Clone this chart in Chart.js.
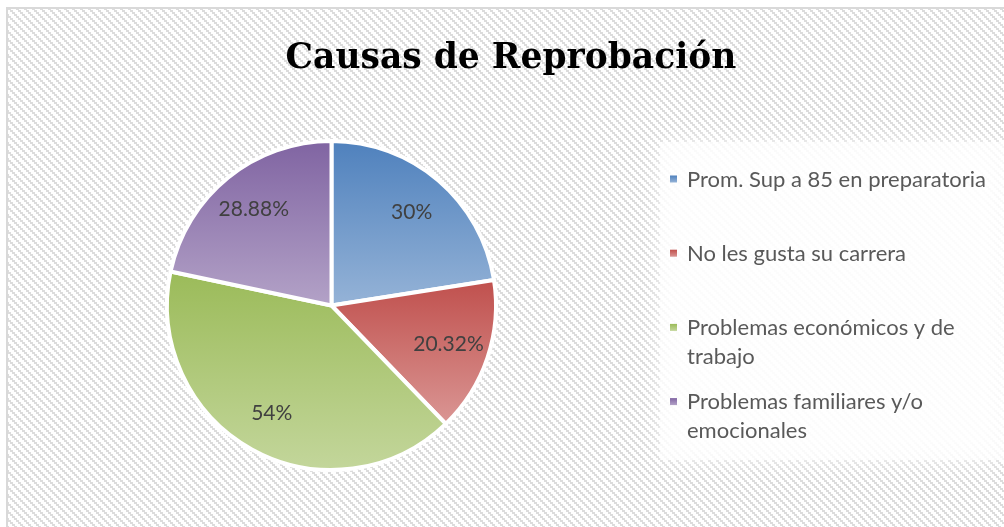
<!DOCTYPE html>
<html>
<head>
<meta charset="utf-8">
<script src="https://cdn.jsdelivr.net/npm/chart.js@4.4.1/dist/chart.umd.min.js"></script>
<style>
  html, body { margin: 0; padding: 0; background: #fff; }
  #chart { display: block; }
</style>
</head>
<body>
<canvas id="chart" width="1004" height="527"></canvas>
<script>
// ── Data ──────────────────────────────────────────────────────────────────────
const titleText   = 'Causas de Reprobación';
const categories  = ['Prom. Sup a 85 en preparatoria', 'No les gusta su carrera', 'Problemas económicos y de trabajo', 'Problemas familiares y/o emocionales'];
const legendLines = [['Prom. Sup a 85 en preparatoria'], ['No les gusta su carrera'], ['Problemas económicos y de', 'trabajo'], ['Problemas familiares y/o', 'emocionales']];
const values      = [30, 20.32, 54, 28.88];

// ── Styles ────────────────────────────────────────────────────────────────────
const topColors    = ['#4f81bd', '#c0504d', '#9bbb59', '#8064a2'];
const bottomColors = ['#95b3d7', '#da9694', '#c3d69b', '#b3a2c7'];
const LABEL_FONT   = '21px Lato';
const LEGEND_FONT  = '22px Lato';
const TITLE_FONT   = 'bold 34.5px "DejaVu Serif"';

function makeHatch(ctx) {
    const c = document.createElement('canvas');
    c.width = 8; c.height = 8;
    const g = c.getContext('2d');
    g.fillStyle = '#ffffff';
    g.fillRect(0, 0, 8, 8);
    g.fillStyle = '#dcdcdc';
    for (let y = 0; y < 8; y++) {
        for (let x = 0; x < 8; x++) {
            if ((((x - 2 * Math.floor(y / 2)) % 8) + 8) % 8 < 3) g.fillRect(x, y, 1, 1);
        }
    }
    return ctx.createPattern(c, 'repeat');
}

function arcYRange(a) {
    let lo = a.y, hi = a.y;
    const n = 64;
    for (let k = 0; k <= n; k++) {
        const t = a.startAngle + (a.endAngle - a.startAngle) * k / n;
        const y = a.y + a.outerRadius * Math.sin(t);
        lo = Math.min(lo, y); hi = Math.max(hi, y);
    }
    return [lo, hi];
}

// background, border, legend panel, title, value labels, legend
const decorPlugin = {
    id: 'decor',
    beforeDraw(chart) {
        const ctx = chart.ctx;
        ctx.save();
        ctx.fillStyle = '#ffffff';
        ctx.fillRect(0, 0, chart.width, chart.height);
        ctx.fillStyle = makeHatch(ctx);
        ctx.fillRect(7, 9, chart.width - 7, chart.height - 9);
        ctx.strokeStyle = '#d9d9d9';
        ctx.lineWidth = 2;
        ctx.beginPath();
        ctx.moveTo(7, chart.height);
        ctx.lineTo(7, 8);
        ctx.lineTo(chart.width, 8);
        ctx.stroke();
        // soft white panel behind the legend
        ctx.fillStyle = 'rgba(255,255,255,0.7)';
        ctx.shadowColor = 'rgba(255,255,255,1)';
        ctx.shadowBlur = 24;
        ctx.fillRect(660, 142, 344, 318);
        ctx.restore();

        ctx.save();
        ctx.font = TITLE_FONT;
        ctx.fillStyle = '#000000';
        ctx.textAlign = 'center';
        ctx.textBaseline = 'alphabetic';
        ctx.fillText(titleText, 511, 68);
        ctx.restore();
    },
    beforeDatasetsDraw(chart) {
        const ctx = chart.ctx;
        chart.getDatasetMeta(0).data.forEach((arc, i) => {
            const [lo, hi] = arcYRange(arc);
            const grad = ctx.createLinearGradient(0, lo, 0, hi);
            grad.addColorStop(0, topColors[i]);
            grad.addColorStop(1, bottomColors[i]);
            arc.options.backgroundColor = grad;
        });
    },
    afterDatasetsDraw(chart) {
        const ctx = chart.ctx;
        ctx.save();
        ctx.font = LABEL_FONT;
        ctx.fillStyle = '#404040';
        ctx.textAlign = 'center';
        ctx.textBaseline = 'middle';
        chart.getDatasetMeta(0).data.forEach((arc, i) => {
            const mid = (arc.startAngle + arc.endAngle) / 2;
            const r = arc.outerRadius * 0.75;
            ctx.fillText(values[i] + '%', arc.x + r * Math.cos(mid), arc.y + r * Math.sin(mid));
        });
        ctx.restore();

        // legend
        ctx.save();
        ctx.font = LEGEND_FONT;
        ctx.textAlign = 'left';
        ctx.textBaseline = 'alphabetic';
        legendLines.forEach((lines, i) => {
            const base = 186.5 + i * 74.2;
            const g = ctx.createLinearGradient(0, base - 11, 0, base - 4);
            g.addColorStop(0, topColors[i]);
            g.addColorStop(1, bottomColors[i]);
            ctx.fillStyle = g;
            ctx.fillRect(670, base - 11, 7, 7);
            ctx.fillStyle = '#595959';
            lines.forEach((ln, j) => ctx.fillText(ln, 687, base + j * 29));
        });
        ctx.restore();
    }
};

/* global Chart */
new Chart(document.getElementById('chart'), {
    type: 'pie',
    data: {
        labels: categories,
        datasets: [{
            data:            values,
            backgroundColor: ctx => topColors[ctx.dataIndex],
            borderColor:     '#ffffff',
            borderWidth:     4,
            hoverOffset:     0,
            offset:          0
        }]
    },
    options: {
        responsive:       false,
        animation:        false,
        devicePixelRatio: 1,
        events:           [],
        layout: { padding: { top: 139, bottom: 55, left: 165, right: 506 } },
        plugins: {
            legend:  { display: false },
            title:   { display: false },
            tooltip: { enabled: false }
        }
    },
    plugins: [decorPlugin]
});
</script>
</body>
</html>
